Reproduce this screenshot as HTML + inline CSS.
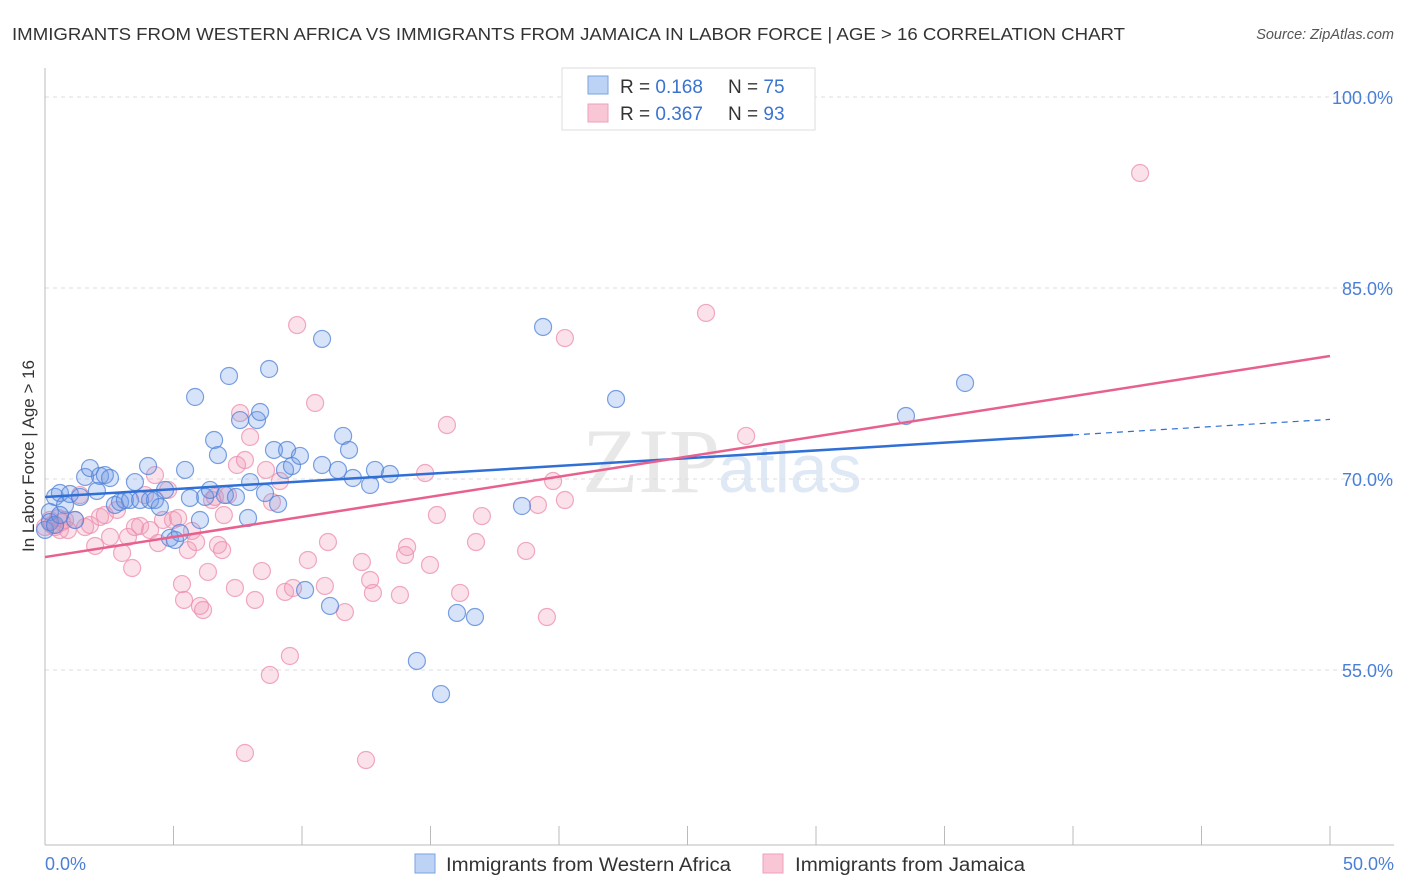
<!DOCTYPE html>
<html><head><meta charset="utf-8"><style>
body{margin:0;background:#fff;font-family:"Liberation Sans",sans-serif;}
svg{display:block}
</style></head><body>
<svg id="chart" width="1406" height="892">
<text x="12" y="40" font-size="17.5" fill="#333" textLength="1113" lengthAdjust="spacingAndGlyphs">IMMIGRANTS FROM WESTERN AFRICA VS IMMIGRANTS FROM JAMAICA IN LABOR FORCE | AGE &gt; 16 CORRELATION CHART</text>
<text x="1394" y="39" font-size="14.5" fill="#555" font-style="italic" text-anchor="end">Source: ZipAtlas.com</text>
<text x="720" y="492" font-size="92" fill="#e8e8e8" font-family="Liberation Serif,serif" text-anchor="end">ZIP</text>
<text x="718" y="492" font-size="68" fill="#dfe8f5">atlas</text>
<g id="grid"></g>
<line x1="45" y1="68" x2="45" y2="845" stroke="#bbb"/>
<line x1="45" y1="845" x2="1394" y2="845" stroke="#bbb"/>
<g id="xticks"></g>
<text x="34" y="456" font-size="17" fill="#333" text-anchor="middle" transform="rotate(-90 34 456)">In Labor Force | Age &gt; 16</text>
<text x="45" y="870" font-size="18" fill="#4a7fd6">0.0%</text>
<text x="1394" y="870" font-size="18" fill="#4a7fd6" text-anchor="end">50.0%</text>
<g id="points"></g>
<g id="lines"></g>
<g>
<rect x="562" y="68" width="253" height="62" fill="#fff" stroke="#ddd"/>
<rect x="588" y="76" width="20" height="18" fill="#bcd3f5" stroke="#7aa3e0"/>
<rect x="588" y="104" width="20" height="18" fill="#f9c6d6" stroke="#eea0ba"/>
<text x="620" y="93" font-size="19" fill="#333">R = <tspan fill="#3a73d0">0.168</tspan><tspan x="728">N = </tspan><tspan fill="#3a73d0">75</tspan></text>
<text x="620" y="120" font-size="19" fill="#333">R = <tspan fill="#3a73d0">0.367</tspan><tspan x="728">N = </tspan><tspan fill="#3a73d0">93</tspan></text>
</g>
<g>
<rect x="415" y="854" width="20" height="19" fill="#bcd3f5" stroke="#7aa3e0"/>
<text x="446" y="871" font-size="19" fill="#333" textLength="285" lengthAdjust="spacingAndGlyphs">Immigrants from Western Africa</text>
<rect x="763" y="854" width="20" height="19" fill="#f9c6d6" stroke="#eea0ba"/>
<text x="795" y="871" font-size="19" fill="#333" textLength="230" lengthAdjust="spacingAndGlyphs">Immigrants from Jamaica</text>
</g>
</svg>
<script>
const yTicks=[100,85,70,55];
const xTickVals=[0,5,10,15,20,25,30,35,40,45,50];
const blueX=[0.19,0.39,0.58,0.78,0.97,1.17,1.36,1.56,1.75,2.02,2.14,2.33,2.53,2.72,2.92,3.11,3.31,3.50,3.70,4.01,4.09,4.28,4.47,4.67,4.86,5.06,5.25,5.45,5.64,5.84,6.03,6.23,6.42,6.58,6.73,7.00,7.16,7.43,7.59,7.90,7.98,8.25,8.37,8.56,8.72,8.91,9.07,9.34,9.42,9.61,9.92,10.12,10.78,10.78,11.09,11.40,11.60,11.83,11.98,12.65,12.84,13.42,14.47,15.41,16.03,16.73,18.56,19.38,22.22,33.50,35.80,0.0,0.19,0.39,0.58];
const blueY=[67.41,68.59,68.90,67.96,68.82,66.78,68.59,70.16,70.86,69.06,70.24,70.31,70.08,67.96,68.19,68.35,68.35,69.76,68.35,71.02,68.35,68.35,67.80,69.14,65.37,65.21,65.76,70.71,68.51,76.44,66.78,68.59,69.14,73.06,71.88,68.74,78.09,68.59,74.63,66.94,69.76,74.63,75.26,68.90,78.64,72.28,68.04,70.71,72.28,71.02,71.81,61.28,81.00,71.10,60.03,70.71,73.38,72.28,70.08,69.53,70.71,70.39,55.71,53.11,59.48,59.16,67.88,81.94,76.28,74.95,77.54,66.0,66.62,66.39,67.17];
const pinkX=[0.19,0.39,0.58,0.66,0.89,1.17,1.36,1.56,1.75,1.95,2.14,2.33,2.53,2.80,3.00,3.23,3.39,3.50,3.70,3.89,4.09,4.28,4.40,4.59,4.79,4.98,5.18,5.33,5.41,5.56,5.72,5.88,6.03,6.15,6.34,6.50,6.61,6.73,6.89,6.96,7.12,7.39,7.47,7.59,7.78,7.98,8.17,8.44,8.60,8.75,8.83,9.14,9.34,9.53,9.65,9.81,10.23,10.51,10.89,11.01,11.67,12.33,12.49,12.65,12.76,13.81,14.01,14.09,14.79,14.98,15.25,15.64,16.15,16.77,17.00,18.72,19.18,19.53,19.77,20.23,20.23,25.72,27.28,42.61,7.78,0.0,0.27,0.51,0.78];
const pinkY=[66.78,66.23,65.99,66.62,65.99,66.78,68.74,66.23,66.39,64.74,67.02,67.17,65.45,67.57,64.19,65.45,63.01,66.23,66.31,68.74,65.99,70.31,64.97,66.78,69.14,66.78,66.94,61.75,60.50,64.42,65.92,65.05,60.03,59.71,62.70,68.35,68.59,64.82,64.42,67.17,68.74,61.44,71.10,75.18,71.49,73.30,60.50,62.77,70.71,54.61,68.19,69.84,61.13,56.10,61.44,82.09,63.64,75.97,61.60,65.05,59.55,63.48,47.93,62.07,61.05,60.89,64.03,64.66,70.47,63.25,67.17,74.24,61.05,65.05,67.09,64.35,67.96,59.16,69.84,81.07,68.35,83.04,73.38,94.03,48.48,66.23,66.39,66.94,66.78];
const blueTrend=[68.59,0.1218];
const pinkTrend=[63.87,0.3158];
const NS='http://www.w3.org/2000/svg';
const xs=v=>45+v*25.7;
const ys=v=>479-(v-70)*12.733;
function mk(t,a,p){const e=document.createElementNS(NS,t);for(const k in a)e.setAttribute(k,a[k]);p.appendChild(e);return e;}
const grid=document.getElementById('grid');
yTicks.forEach(v=>{
const l=mk('line',{x1:45,x2:1394,y1:ys(v),y2:ys(v),stroke:'#ddd','stroke-dasharray':'4,4'},grid);


const t=mk('text',{x:1393,y:ys(v)+7,'font-size':18,fill:'#4a7fd6','text-anchor':'end'},grid);
t.textContent=v.toFixed(1)+'%';


});
const xt=document.getElementById('xticks');
xTickVals.forEach(v=>{
const l=mk('line',{x1:xs(v),x2:xs(v),y1:826,y2:845,stroke:'#bbb'},xt);


});
const pts=document.getElementById('points');
pinkX.forEach((x,i)=>{
const c=mk('circle',{cx:xs(x),cy:ys(pinkY[i]),r:8.5,fill:'rgba(242,150,180,0.28)',stroke:'rgba(236,140,172,0.75)','stroke-width':1.2},pts);


});
blueX.forEach((x,i)=>{
const c=mk('circle',{cx:xs(x),cy:ys(blueY[i]),r:8.5,fill:'rgba(110,155,230,0.28)',stroke:'rgba(80,130,215,0.75)','stroke-width':1.2},pts);


});
const ln=document.getElementById('lines');
const f=(tr,x)=>tr[0]+tr[1]*x;
let a=mk('line',{x1:xs(0),y1:ys(f(blueTrend,0)),x2:xs(40),y2:ys(f(blueTrend,40)),stroke:'#2f6fd6','stroke-width':2.5},ln);


a=mk('line',{x1:xs(40),y1:ys(f(blueTrend,40)),x2:xs(50),y2:ys(f(blueTrend,50)),stroke:'#2f6fd6','stroke-width':1.2,'stroke-dasharray':'6,5'},ln);


a=mk('line',{x1:xs(0),y1:ys(f(pinkTrend,0)),x2:xs(50),y2:ys(f(pinkTrend,50)),stroke:'#e8608e','stroke-width':2.5},ln);


</script>
</body></html>
